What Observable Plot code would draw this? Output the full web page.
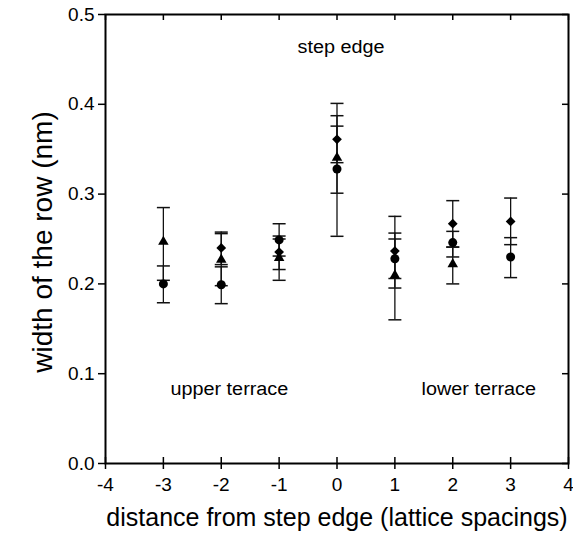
<!DOCTYPE html>
<html><head><meta charset="utf-8">
<script src="https://cdn.jsdelivr.net/npm/d3@7"></script>
<script src="https://cdn.jsdelivr.net/npm/@observablehq/plot@0.6"></script>
<style>html,body{margin:0;padding:0;background:#fff}svg{display:block}</style>
</head><body><div id="chart"></div>
<script>
// distance from step edge (lattice spacings)
const circleX = [-3, -2, -1, 0, 1, 2, 3];
const circleY = [0.200, 0.199, 0.249, 0.328, 0.228, 0.246, 0.230];
const circleLo = [0.179, 0.178, 0.231, 0.253, 0.206, 0.230, 0.207];
const circleHi = [0.220, 0.219, 0.267, 0.401, 0.250, 0.2585, 0.2515];

const triangleX = [-3, -2, -1, 0, 1, 2];
const triangleY = [0.247, 0.227, 0.229, 0.3405, 0.2095, 0.222];
const triangleLo = [0.204, 0.198, 0.204, 0.301, 0.160, 0.200];
const triangleHi = [0.285, 0.256, 0.250, 0.3757, 0.2566, 0.241];

const diamondX = [-2, -1, 0, 1, 2, 3];
const diamondY = [0.240, 0.2355, 0.361, 0.2366, 0.267, 0.2696];
const diamondLo = [0.2215, 0.216, 0.335, 0.1954, 0.241, 0.2437];
const diamondHi = [0.2577, 0.2533, 0.3873, 0.2752, 0.2927, 0.2956];

const xTicks = [-4, -3, -2, -1, 0, 1, 2, 3, 4];
const yTicks = [0, 0.1, 0.2, 0.3, 0.4, 0.5];

const annoText = ["step edge", "upper terrace", "lower terrace"];
const annoX = [0.07, -1.86, 2.45];
const annoY = [0.464, 0.083, 0.083];

const xLabel = "distance from step edge (lattice spacings)";
const yLabel = "width of the row (nm)";

// build tables
function series(xs, ys, lo, hi, name) {
  return xs.map((x, i) => ({x, y: ys[i], lo: lo[i], hi: hi[i], series: name}));
}
const circles = series(circleX, circleY, circleLo, circleHi, "circle");
const triangles = series(triangleX, triangleY, triangleLo, triangleHi, "triangle");
const diamonds = series(diamondX, diamondY, diamondLo, diamondHi, "diamond");
const all = [...circles, ...triangles, ...diamonds];
const caps = all.flatMap(d => [{x: d.x, v: d.lo}, {x: d.x, v: d.hi}]);
const annos = annoText.map((t, i) => ({t, x: annoX[i], y: annoY[i]}));

const W = 573, H = 535, mL = 105, mR = 5, mT = 14, mB = 72;
const plotW = W - mL - mR, plotH = H - mT - mB;
const capSymbol = {draw(ctx) { ctx.moveTo(-6.5, 0); ctx.lineTo(6.5, 0); }};

const chart = Plot.plot({
  width: W, height: H,
  marginLeft: mL, marginRight: mR, marginTop: mT, marginBottom: mB,
  x: {domain: [-4, 4]},
  y: {domain: [0, 0.5]},
  style: {fontFamily: "'Liberation Sans', Arial, Helvetica, sans-serif", background: "#fff", color: "#000"},
  marks: [
    Plot.ruleX(all, {x: "x", y1: "lo", y2: "hi", stroke: "#111", strokeWidth: 1.3}),
    Plot.dot(caps, {x: "x", y: "v", symbol: capSymbol, stroke: "#111", strokeWidth: 1.5, fill: "none"}),
    Plot.dot(circles, {x: "x", y: "y", symbol: "circle", r: 4.5, fill: "#000", stroke: "none"}),
    Plot.dot(triangles, {x: "x", y: "y", symbol: "triangle", r: 3.9, fill: "#000", stroke: "none"}),
    Plot.dot(diamonds, {x: "x", y: "y", symbol: "diamond2", r: 4.4, fill: "#000", stroke: "none"}),
    Plot.frame({stroke: "#000", strokeWidth: 2}),
    Plot.axisX({ticks: xTicks, tickSize: 6, tickPadding: 8, fontSize: 19, label: null, strokeWidth: 1.5, tickFormat: d => String(d)}),
    Plot.tickX(xTicks, {x: d => d, insetTop: plotH - 6, strokeWidth: 1.5}),
    Plot.tickX(xTicks, {x: d => d, insetBottom: plotH - 6, strokeWidth: 1.5}),
    Plot.axisY({ticks: yTicks, tickSize: 7, tickPadding: 4, fontSize: 19, label: null, strokeWidth: 1.5, tickFormat: d => d.toFixed(1)}),
    Plot.tickY(yTicks, {y: d => d, insetLeft: plotW - 6, strokeWidth: 1.5}),
    Plot.text(annos, {x: "x", y: "y", text: "t", fontSize: 18, fill: "#000"}),
    Plot.text([xLabel], {frameAnchor: "bottom", text: d => d, textAnchor: "middle", dy: 62, fontSize: 25, fill: "#000"}),
    Plot.text([yLabel], {frameAnchor: "left", text: d => d, textAnchor: "middle", rotate: -90, dx: -62, dy: 3, fontSize: 28, fill: "#000"})
  ]
});
document.getElementById("chart").append(chart);

const textGroups = chart.querySelectorAll('g[aria-label="text"]');
if (textGroups.length) textGroups[0].querySelectorAll("text").forEach(t => {
  const L = t.getComputedTextLength();
  t.setAttribute("textLength", (L * 1.1).toFixed(1));
  t.setAttribute("lengthAdjust", "spacingAndGlyphs");
});
</script>
</body></html>
